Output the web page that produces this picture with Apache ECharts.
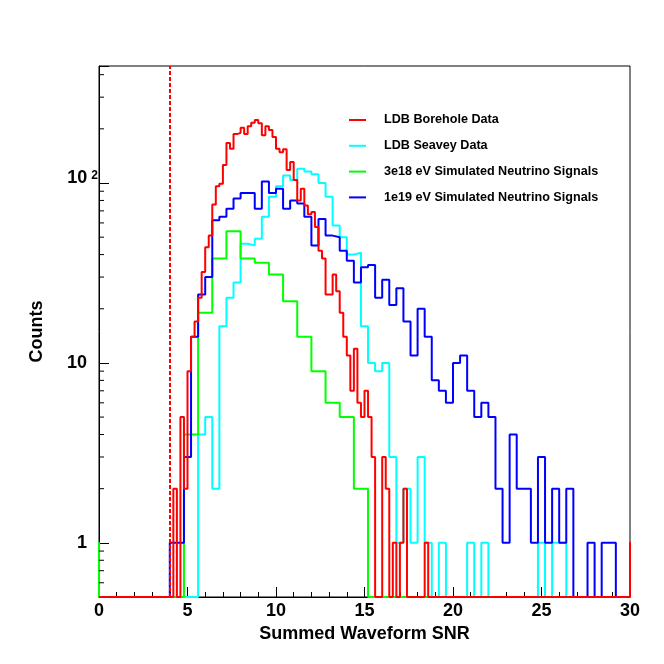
<!DOCTYPE html>
<html>
<head>
<meta charset="utf-8">
<script src="https://cdn.jsdelivr.net/npm/echarts@6/dist/echarts.min.js"></script>
<style>
html, body { margin: 0; padding: 0; background: #ffffff; }
#chart { width: 664px; height: 664px; }
</style>
</head>
<body>
<div id="chart"></div>
<script>
// ---------------- data ----------------
const seriesNames = [
  'LDB Borehole Data',
  'LDB Seavey Data',
  '3e18 eV Simulated Neutrino Signals',
  '1e19 eV Simulated Neutrino Signals'
];

// LDB Borehole Data: bins of 0.2 starting at 0.0
const redStart = 0.0;
const redWidth = 0.2;
const redCounts = [
  0, 0, 0, 0, 0, 0, 0, 0, 0, 0,            // 0.0 - 1.8
  0, 0, 0, 0, 0, 0, 0, 0, 0, 0,            // 2.0 - 3.8
  0, 2, 0, 5, 2, 9, 14, 17, 23, 32,        // 4.0 - 5.8
  44, 51, 76, 96, 99, 126, 167, 155, 187, 190,   // 6.0 - 7.8
  203, 187, 207, 216, 224, 215, 184, 207, 197, 180, // 8.0 - 9.8
  155, 148, 154, 118, 131, 104, 80, 93, 75, 67,   // 10.0 - 11.8
  69, 57, 42, 38, 24, 24, 31, 25, 19, 14,  // 12.0 - 13.8
  11, 7, 12, 6, 5, 7, 5, 3, 0, 0,          // 14.0 - 15.8
  3, 2, 0, 1, 0, 1, 2, 0, 0, 0,            // 16.0 - 17.8
  0, 0, 1, 0, 0, 0, 0, 0, 0, 0,            // 18.0 - 19.8
  0, 0, 0, 0, 0, 0, 0, 0, 0, 0,            // 20.0 - 21.8
  0, 0, 0, 0, 0, 0, 0, 0, 0, 0,            // 22.0 - 23.8
  0, 0, 0, 0, 0, 0, 0, 0, 0, 0,            // 24.0 - 25.8
  0, 0, 0, 0, 0, 0, 0, 0, 0, 0,            // 26.0 - 27.8
  0, 0, 0, 0, 0, 0, 0, 0, 0, 0,            // 28.0 - 29.8
  1                                        // 30.0
];

// LDB Seavey Data: bins of 0.4 starting at 0.0
const cyanStart = 0.0;
const cyanWidth = 0.4;
const cyanCounts = [
  0, 0, 0, 0, 0, 0, 0, 0, 0, 0, 0, 0, 0, 0,        // 0.0 - 5.2
  4, 5, 2, 16, 23, 28, 46, 45, 49, 65,             // 5.6 - 9.2
  84, 96, 110, 104, 120, 116, 112, 100, 84, 58,    // 9.6 - 13.2
  50, 40, 41, 16, 10, 9, 10, 3, 1, 2,              // 13.6 - 17.2
  1, 3, 1, 0, 1, 0, 0, 0, 1, 0, 1,                 // 17.6 - 21.6
  0, 0, 0, 0, 0, 0, 0,                             // 22.0 - 24.4
  1, 0, 1, 1,                                      // 24.8 - 26.0
  0, 0, 0, 0, 0, 0, 0, 0, 0                        // 26.4 - 29.6
];

// 3e18 eV simulated neutrinos: bins of 0.8 starting at -0.8
const greenStart = -0.8;
const greenWidth = 0.8;
const greenCounts = [
  1, 0, 0, 0, 0, 0, 0,                             // -0.8 - 4.0
  4, 19, 38, 54, 38, 36, 31, 22, 14, 9, 6, 5, 2,   // 4.8 - 14.4
  0, 0, 0, 0, 0, 0, 0, 0, 0, 0,                    // 15.2 - 22.4
  0, 0, 0, 0, 0, 0, 0, 0, 0                        // 23.2 - 29.6
];

// 1e19 eV simulated neutrinos: bins of 0.4 starting at 0.0
const blueStart = 0.0;
const blueWidth = 0.4;
const blueCounts = [
  0, 0, 0, 0, 0, 0, 0, 0, 0, 0,                    // 0.0 - 3.6
  1, 1, 3, 14, 24, 30, 62, 65, 72, 82,             // 4.0 - 7.6
  88, 88, 72, 102, 88, 93, 72, 80, 77, 65,         // 8.0 - 11.6
  45, 63, 51, 50, 42, 37, 28, 34, 35, 23,          // 12.0 - 15.6
  29, 21, 26, 17, 11, 20, 14, 8, 7, 6,             // 16.0 - 19.6
  10, 11, 7, 5, 6, 5, 2, 1, 4, 2,                  // 20.0 - 23.6
  2, 1, 3, 1, 2, 1, 2, 0, 0, 1,                    // 24.0 - 27.6
  0, 1, 1, 0, 0                                    // 28.0 - 29.6
];

const cutValue = 4;                     // dashed cut line
const xTickValues = [0, 5, 10, 15, 20, 25, 30];
const yMajorTicks = [1, 10, 100];
const yMinorTicks = [0.6, 0.7, 0.8, 0.9, 2, 3, 4, 5, 6, 7, 8, 9,
                     20, 30, 40, 50, 60, 70, 80, 90, 200, 300, 400];
const xMin = 0, xMax = 30;
const yMin = 0.5, yMax = 447;

// ---------------- build ----------------
const FONT = '"Liberation Sans", Arial, Helvetica, sans-serif';
const ZERO = yMin; // empty bins drawn on the frame bottom (log scale)

function histPoints(start, width, counts) {
  const pts = [];
  for (let i = 0; i < counts.length; i++) {
    const x = Math.round((start + i * width) * 1e6) / 1e6;
    pts.push([x, counts[i] > 0 ? counts[i] : ZERO]);
  }
  const xe = Math.round((start + counts.length * width) * 1e6) / 1e6;
  pts.push([xe, ZERO]);
  return pts;
}

function histSeries(name, color, pts, extra) {
  return Object.assign({
    name: name,
    type: 'line',
    step: 'end',
    symbol: 'none',
    data: pts,
    lineStyle: { color: color, width: 2 },
    itemStyle: { color: color },
    silent: true,
    z: 3
  }, extra || {});
}

const chart = echarts.init(document.getElementById('chart'), null, { renderer: 'canvas' });

const labelFormatter = function (v) {
  if (Math.abs(v - yMajorTicks[0]) < 1e-9) return '{n|1}';
  if (Math.abs(v - yMajorTicks[1]) < 1e-9) return '{n|10}';
  if (Math.abs(v - yMajorTicks[2]) < 1e-9) return '{a|10}{s|2}';
  return '';
};

const option = {
  animation: false,
  backgroundColor: '#ffffff',
  grid: {
    left: 99, right: 34, top: 66, bottom: 67,
    show: true, borderColor: '#000000', borderWidth: 1,
    backgroundColor: 'transparent'
  },
  legend: {
    data: seriesNames,
    orient: 'vertical',
    left: 349,
    top: 113,
    padding: 0,
    icon: 'rect',
    itemWidth: 17,
    itemHeight: 2,
    itemGap: 11.8,
    selectedMode: false,
    textStyle: {
      fontFamily: FONT, fontWeight: 'bold', fontSize: 12.6, color: '#000000',
      lineHeight: 14, padding: [0, 0, 0, 13]
    }
  },
  xAxis: {
    type: 'value',
    min: xMin, max: xMax, interval: 5,
    axisLine: { show: true, onZero: false, lineStyle: { color: '#000000', width: 1 } },
    axisTick: { show: true, inside: true, length: 10, lineStyle: { color: '#000000', width: 1 } },
    minorTick: { show: true, splitNumber: 5, length: 5, lineStyle: { color: '#000000', width: 1 } },
    splitLine: { show: false },
    minorSplitLine: { show: false },
    axisLabel: {
      margin: 5, fontFamily: FONT, fontWeight: 'bold', fontSize: 18, color: '#000000',
      customValues: xTickValues
    },
    name: 'Summed Waveform SNR',
    nameLocation: 'middle',
    nameGap: 26,
    nameTextStyle: { fontFamily: FONT, fontWeight: 'bold', fontSize: 18, color: '#000000' }
  },
  yAxis: {
    type: 'log',
    logBase: 10,
    min: yMin, max: yMax,
    axisLine: { show: true, onZero: false, lineStyle: { color: '#000000', width: 1 } },
    axisTick: { show: true, inside: true, length: 10, lineStyle: { color: '#000000', width: 1 } },
    minorTick: { show: false },
    splitLine: { show: false },
    axisLabel: {
      margin: 1,
      formatter: labelFormatter,
      rich: {
        n: { fontFamily: FONT, fontWeight: 'bold', fontSize: 18, color: '#000000', padding: [0, 11, 0, 0] },
        a: { fontFamily: FONT, fontWeight: 'bold', fontSize: 18, color: '#000000', padding: [0, 4, 10, 0] },
        s: { fontFamily: FONT, fontWeight: 'bold', fontSize: 12, color: '#000000', padding: [0, 0, 14, 0] }
      }
    },
    name: 'Counts',
    nameLocation: 'middle',
    nameRotate: 90,
    nameGap: 53,
    nameTextStyle: { fontFamily: FONT, fontWeight: 'bold', fontSize: 18, color: '#000000' }
  },
  series: [
    histSeries(seriesNames[1], '#00ffff', histPoints(cyanStart, cyanWidth, cyanCounts)),
    histSeries(seriesNames[2], '#00ff00', histPoints(greenStart, greenWidth, greenCounts)),
    histSeries(seriesNames[3], '#0000ff', histPoints(blueStart, blueWidth, blueCounts)),
    histSeries(seriesNames[0], '#ff0000', histPoints(redStart, redWidth, redCounts), {
      markLine: {
        silent: true,
        symbol: ['none', 'none'],
        label: { show: false },
        lineStyle: { color: '#ff0000', type: [4, 2], width: 2 },
        data: [{ xAxis: cutValue }]
      }
    }),
    {
      name: 'yMinorTicks',
      type: 'custom',
      silent: true,
      clip: false,
      z: 4,
      data: yMinorTicks.map(function (v) { return [xMin, v]; }),
      renderItem: function (params, api) {
        const p = api.coord([api.value(0), api.value(1)]);
        return {
          type: 'line',
          shape: { x1: p[0], y1: p[1], x2: p[0] + 5, y2: p[1] },
          style: { stroke: '#000000', lineWidth: 1 }
        };
      }
    }
  ]
};

chart.setOption(option);
</script>
</body>
</html>
